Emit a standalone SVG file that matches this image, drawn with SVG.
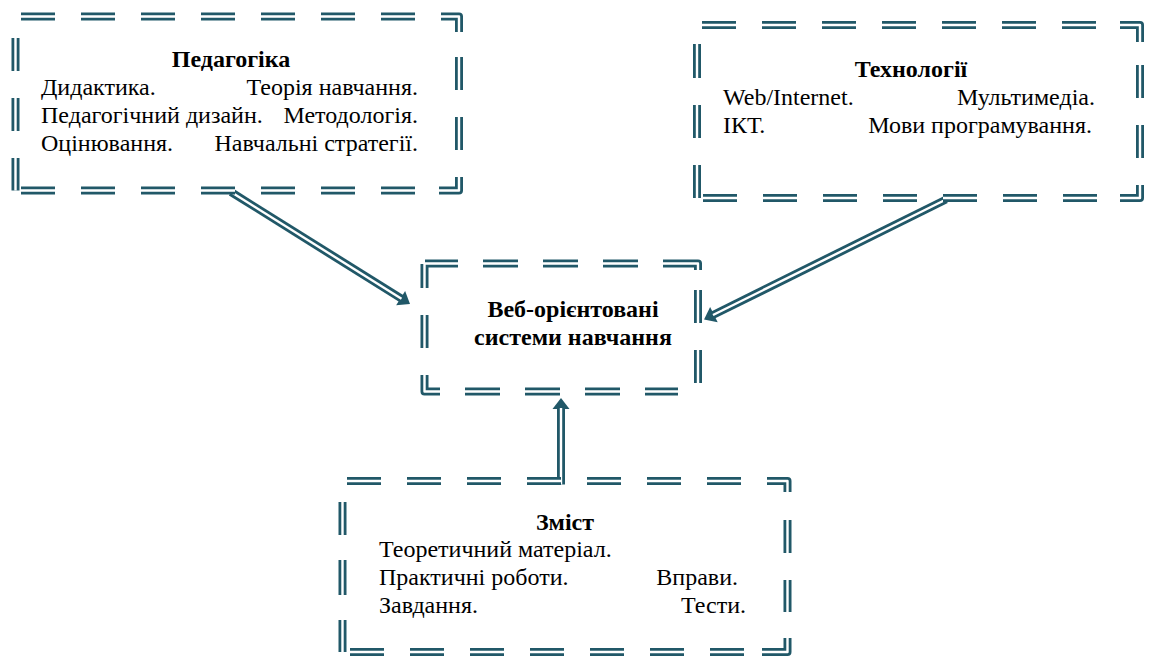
<svg xmlns="http://www.w3.org/2000/svg" xmlns:xlink="http://www.w3.org/1999/xlink" width="1154" height="657" viewBox="0 0 1154 657">
  <style>
    .line { fill: none; stroke: #215868; stroke-width: 8; stroke-linecap: butt; stroke-linejoin: round; }
    .gap { fill: none; stroke: #ffffff; stroke-width: 2.4; stroke-linecap: butt; stroke-linejoin: round; marker-end: none; }
    .arrow { marker-end: url(#head); }
    text { font-family: "Liberation Serif", "Times New Roman", serif; font-size: 24px; fill: #000000; }
    .title { font-weight: bold; text-anchor: middle; }
    .r { text-anchor: end; }
  </style>
  <defs>
    <marker id="head" markerUnits="userSpaceOnUse" orient="auto" refX="0" refY="0" markerWidth="20" markerHeight="20" viewBox="-2 -10 14 20" overflow="visible">
      <path d="M-1,-8.5 L10,0 L-1,8.5 Z" fill="#215868"/>
    </marker>
    <!-- dashed double borders -->
    <path id="b1" d="M21,16.5h34M81,16.5h34M141,16.5h34M201,16.5h34M261,16.5h34M321,16.5h34M381,16.5h34M441,16.5H459V32
      M459,57V90M459,117V150M459,177V190.5H439
      M21,190.5h34M81,190.5h34M141,190.5h34M201,190.5h34M261,190.5h34M321,190.5h34M381,190.5h34
      M15.5,38V71M15.5,98V131M15.5,158V190.5"/>
    <path id="b2" d="M702,25h34M762,25h34M822,25h34M882,25h34M942,25h34M1002,25h34M1062,25h34M1120,25H1140V42
      M1140,65V98M1140,125V158M1140,185V198H1120
      M703,198h34M763,198h34M823,198h34M883,198h34M943,198h34M1003,198h34M1063,198h34
      M697,44V78M697,105V138M697,165V198"/>
    <path id="b3" d="M425,263.5H458M424.5,264V288
      M483,263.5h35M543,263.5h35M603,263.5h35M663,263.5H698V270
      M698,290V323M698,350V383
      M465,391.5h35M525,391.5h35M585,391.5h35M645,391.5H678
      M424.5,315V348M424.5,375V391.5H440"/>
    <path id="b4" d="M347,481h34M407,481h34M467,481h34M527,481h34M587,481h34M647,481h34M707,481h34M767,481H787.5V492
      M787.5,520V553M787.5,580V612M787.5,638V652H762
      M350,652h34M410,652h34M470,652h34M530,652h34M590,652h34M650,652h34M710,652h34
      M342.5,502V535M342.5,560V595M342.5,620V652"/>
    <!-- connector shafts -->
    <path id="c1" d="M231,192L401.5,298.7"/>
    <path id="c2" d="M946,199.5L713,315"/>
    <path id="c3" d="M561,484.5V408"/>
  </defs>

  <g id="connectors">
    <use xlink:href="#c1" class="line arrow"/>
    <use xlink:href="#c1" class="gap"/>
    <use xlink:href="#c2" class="line arrow"/>
    <use xlink:href="#c2" class="gap"/>
    <use xlink:href="#c3" class="line arrow"/>
    <use xlink:href="#c3" class="gap"/>
  </g>

  <g id="pedagogy">
    <use xlink:href="#b1" class="line"/>
    <use xlink:href="#b1" class="gap"/>
    <text class="title" x="231" y="67">Педагогіка</text>
    <text x="41" y="94.5">Дидактика.</text>
    <text class="r" x="418" y="94.5">Теорія навчання.</text>
    <text x="41" y="122.5">Педагогічний дизайн.</text>
    <text class="r" x="418" y="122.5">Методологія.</text>
    <text x="41" y="150.5">Оцінювання.</text>
    <text class="r" x="418" y="150.5">Навчальні стратегії.</text>
  </g>

  <g id="technology">
    <use xlink:href="#b2" class="line"/>
    <use xlink:href="#b2" class="gap"/>
    <text class="title" x="911" y="77">Технології</text>
    <text x="723" y="105">Web/Internet.</text>
    <text class="r" x="1095" y="105">Мультимедіа.</text>
    <text x="723" y="133">ІКТ.</text>
    <text class="r" x="1092" y="133">Мови програмування.</text>
  </g>

  <g id="web-systems">
    <use xlink:href="#b3" class="line"/>
    <use xlink:href="#b3" class="gap"/>
    <text class="title" x="573" y="317">Веб-орієнтовані</text>
    <text class="title" x="573" y="345">системи навчання</text>
  </g>

  <g id="content">
    <use xlink:href="#b4" class="line"/>
    <use xlink:href="#b4" class="gap"/>
    <text class="title" x="565" y="530">Зміст</text>
    <text x="379" y="557">Теоретичний матеріал.</text>
    <text x="379" y="584.5">Практичні роботи.</text>
    <text class="r" x="738" y="584.5">Вправи.</text>
    <text x="379" y="612.5">Завдання.</text>
    <text class="r" x="746" y="612.5">Тести.</text>
  </g>
</svg>
